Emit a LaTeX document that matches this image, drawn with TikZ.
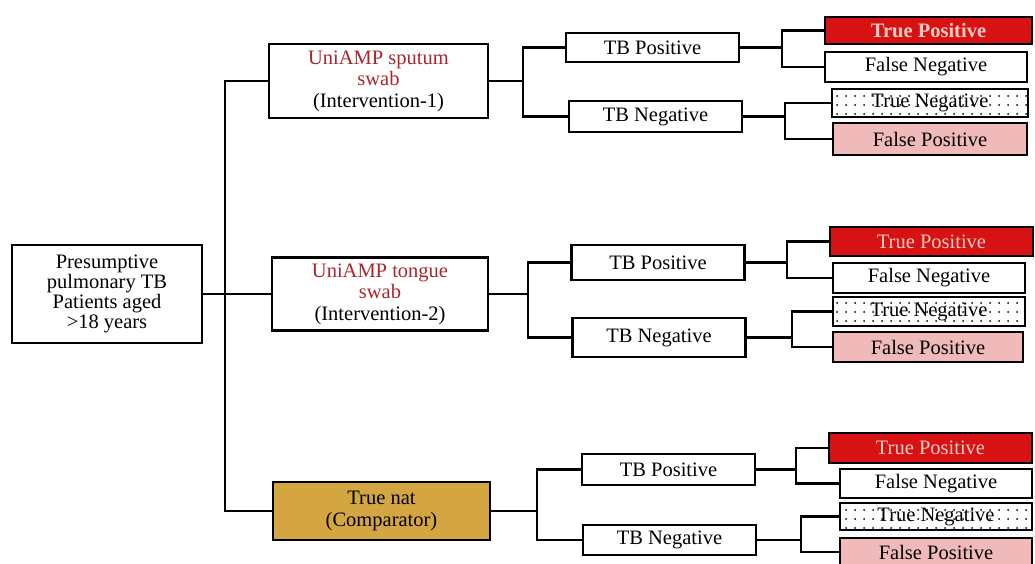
\documentclass[tikz,border=0pt]{standalone}
\usepackage{fontspec}
\setmainfont{Liberation Serif}
\usepackage{tikz}
\usetikzlibrary{patterns.meta}
\definecolor{unired}{RGB}{168,38,42}
\definecolor{tpred}{RGB}{214,18,18}
\definecolor{tptext}{RGB}{248,205,200}
\definecolor{fppink}{RGB}{240,186,186}
\definecolor{natgold}{RGB}{212,166,66}
\tikzset{
    treebox/.style={draw, line width=2.6pt, align=center, inner sep=0pt, font=\fontsize{20.5}{21.5}\selectfont},
    testbox/.style={treebox, minimum width=173pt},
    leafbox/.style={treebox, minimum width=194pt},
    tpbox/.style={leafbox, fill=tpred, text=tptext},
    tnbox/.style={leafbox, pattern={Dots[distance=9pt, radius=1pt]}},
    fpbox/.style={leafbox, fill=fppink},
    treeline/.style={line width=2.6pt}
}

\begin{document}
\begin{tikzpicture}[x=1pt, y=-1pt]
    \useasboundingbox (0,0) rectangle (1035,564);
    % root and interventions
    \node[treebox, minimum width=190pt, minimum height=98pt, font=\fontsize{20.5}{20}\selectfont] (root) at (107,294) {Presumptive\\pulmonary TB\\Patients aged\\>18 years};
    \node[treebox, minimum width=219pt, minimum height=74pt] (sputum) at (378.5,81) {\textcolor{unired}{UniAMP sputum}\\\textcolor{unired}{swab}\\(Intervention-1)};
    \node[treebox, minimum width=216pt, minimum height=73pt] (tongue) at (380,294) {\textcolor{unired}{UniAMP tongue}\\\textcolor{unired}{swab}\\(Intervention-2)};
    \node[treebox, fill=natgold, minimum width=217pt, minimum height=58pt] (truenat) at (381.5,511) {True nat\\(Comparator)};
    % test results
    \node[testbox, minimum height=29pt] (tbpos1) at (652.5,47.5) {TB Positive};
    \node[testbox, minimum height=31pt] (tbneg1) at (655.5,116.5) {TB Negative};
    \node[testbox, minimum height=35pt] (tbpos2) at (658,262.5) {TB Positive};
    \node[testbox, minimum height=39pt] (tbneg2) at (659,337.5) {TB Negative};
    \node[testbox, minimum height=31pt] (tbpos3) at (668.5,469.5) {TB Positive};
    \node[testbox, minimum height=30pt] (tbneg3) at (669.5,540) {TB Negative};
    % outcomes
    \node[tpbox, minimum width=207pt, minimum height=27pt, font=\fontsize{20.5}{21.5}\selectfont\bfseries] (tp1) at (928.5,30.5) {True Positive};
    \node[leafbox, minimum width=202pt, minimum height=30pt] (fn1) at (926,67) {False Negative};
    \node[tnbox, minimum width=196pt, minimum height=28pt] (tn1) at (930,103) {True Negative};
    \node[fpbox, minimum height=32pt] (fp1) at (930,139) {False Positive};
    \node[tpbox, minimum width=203pt, minimum height=29pt] (tp2) at (931.5,241.5) {True Positive};
    \node[leafbox, minimum width=192pt, minimum height=30pt] (fn2) at (929,278) {False Negative};
    \node[tnbox, minimum width=192pt, minimum height=29pt] (tn2) at (929,311.5) {True Negative};
    \node[fpbox, minimum width=190pt, minimum height=30pt] (fp2) at (928,347) {False Positive};
    \node[tpbox, minimum width=203pt, minimum height=30pt] (tp3) at (930.5,448) {True Positive};
    \node[leafbox, minimum width=192pt, minimum height=29pt] (fn3) at (936,483.5) {False Negative};
    \node[tnbox, minimum width=192pt, minimum height=27pt] (tn3) at (936,516.5) {True Negative};
    \node[fpbox, minimum width=192pt, minimum height=28pt] (fp3) at (936,552) {False Positive};
    % junctions
    \coordinate (j0) at (225,294);
    \coordinate (j1) at (523,81);
    \coordinate (j2) at (528,294);
    \coordinate (j3) at (537,511);
    \coordinate (k1p) at (782,47.5);
    \coordinate (k1n) at (785,116.5);
    \coordinate (k2p) at (787,262.5);
    \coordinate (k2n) at (792,337.5);
    \coordinate (k3p) at (796,469.5);
    \coordinate (k3n) at (801,540);
    % connectors
    \draw[treeline] (root.east) -- (j0);
    \draw[treeline] (sputum.west) -| (j0) |- (truenat.west);
    \draw[treeline] (j0) -- (tongue.west);
    \draw[treeline] (sputum.east) -- (j1);
    \draw[treeline] (tbpos1.west) -| (j1) |- (tbneg1.west);
    \draw[treeline] (tongue.east) -- (j2);
    \draw[treeline] (tbpos2.west) -| (j2) |- (tbneg2.west);
    \draw[treeline] (truenat.east) -- (j3);
    \draw[treeline] (tbpos3.west) -| (j3) |- (tbneg3.west);
    \draw[treeline] (tbpos1.east) -- (k1p);
    \draw[treeline] (tp1.west) -| (k1p) |- (fn1.west);
    \draw[treeline] (tbneg1.east) -- (k1n);
    \draw[treeline] (tn1.west) -| (k1n) |- (fp1.west);
    \draw[treeline] (tbpos2.east) -- (k2p);
    \draw[treeline] (tp2.west) -| (k2p) |- (fn2.west);
    \draw[treeline] (tbneg2.east) -- (k2n);
    \draw[treeline] (tn2.west) -| (k2n) |- (fp2.west);
    \draw[treeline] (tbpos3.east) -- (k3p);
    \draw[treeline] (tp3.west) -| (k3p) |- (fn3.west);
    \draw[treeline] (tbneg3.east) -- (k3n);
    \draw[treeline] (tn3.west) -| (k3n) |- (fp3.west);
\end{tikzpicture}
\end{document}
